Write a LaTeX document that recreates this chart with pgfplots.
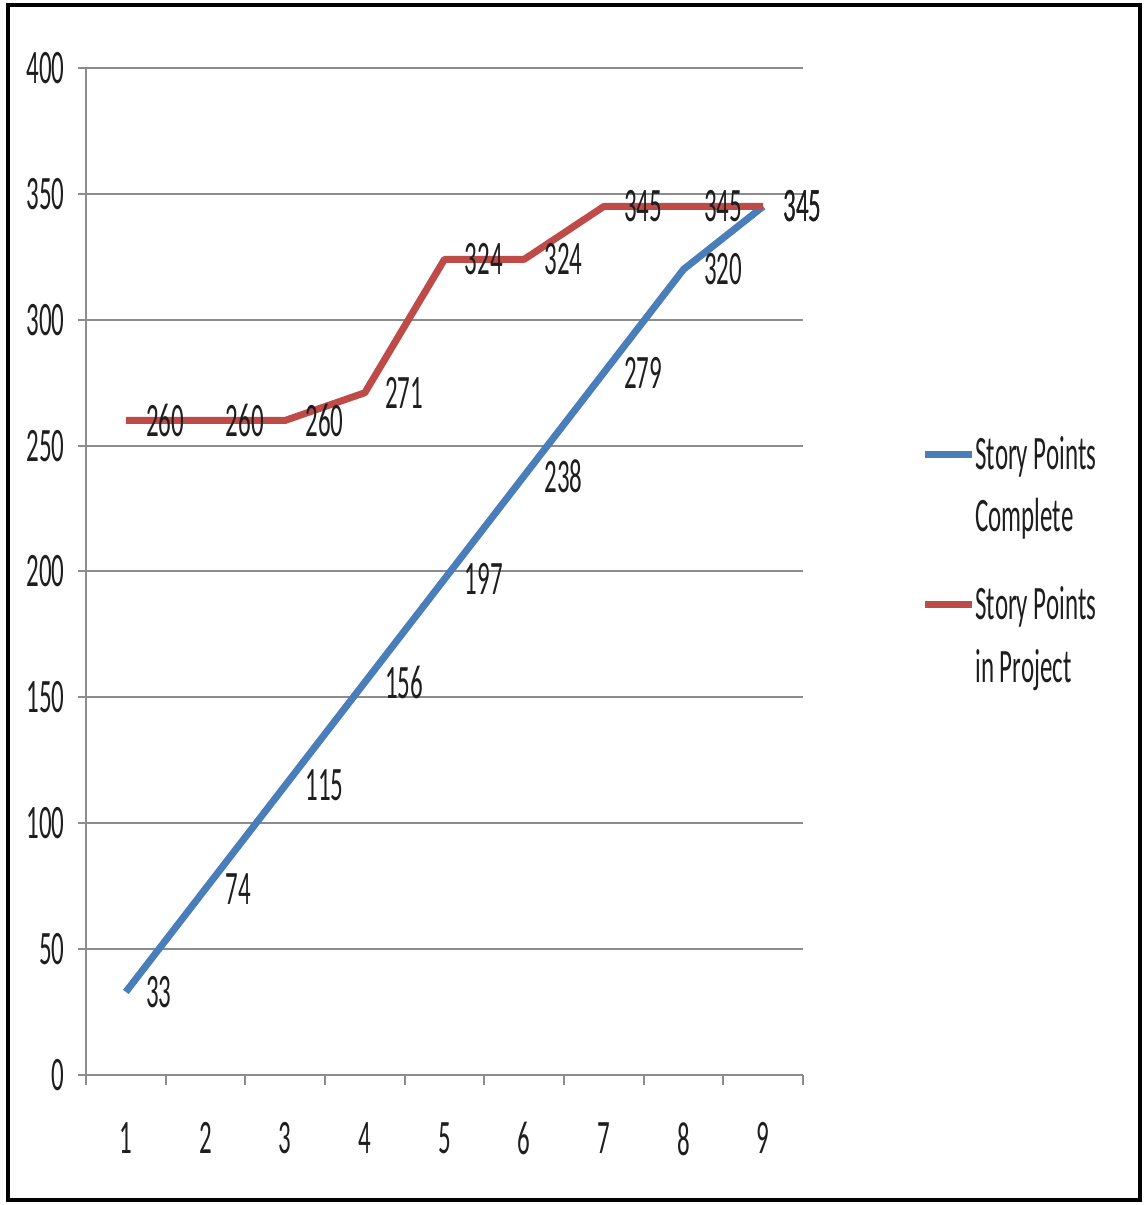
\documentclass[border=0pt]{standalone}
\usepackage{fontspec}
\setmainfont{Carlito}[FakeStretch=0.52]
\usepackage{pgfplots}
\pgfplotsset{compat=1.18}
\definecolor{sblue}{RGB}{74,126,187}
\definecolor{sred}{RGB}{190,75,72}
\definecolor{gridgray}{RGB}{140,140,140}
\definecolor{txt}{RGB}{30,30,30}
\begin{document}
\fontsize{24}{29}\selectfont
\begin{tikzpicture}
\useasboundingbox (-43pt,-65pt) rectangle (529pt,537.5pt);
\draw[line width=2pt] (-39pt,-62.5pt) rectangle (527pt,535pt);
\begin{axis}[
  at={(0pt,0pt)}, anchor=south west,
  scale only axis, width=358.5pt, height=503.5pt,
  xmin=0.5, xmax=9.5, ymin=0, ymax=400,
  axis lines*=left,
  axis line style={gridgray, line width=1pt},
  xtick={1,...,9},
  minor xtick={0.5,1.5,...,9.5},
  major x tick style={draw=none},
  ytick={0,50,...,400},
  ymajorgrids,
  grid style={gridgray, line width=1pt},
  tick align=outside,
  major tick length=4pt, minor tick length=5pt,
  tick style={gridgray, line width=1pt},
  /pgf/number format/assume math mode=true,
  ticklabel style={font=\fontsize{24}{29}\selectfont, text=txt},
  xticklabel style={yshift=-11.5pt},
  yticklabel style={xshift=1.5pt},
  clip=false,
  nodes near coords={\pgfmathprintnumber[assume math mode=true]{\pgfplotspointmeta}},
  every node near coord/.append style={anchor=west, xshift=0.5pt, text=txt, font=\fontsize{24}{29}\selectfont},
]
\addplot[sblue, line width=3.5pt, line join=round] coordinates {
  (1,33) (2,74) (3,115) (4,156) (5,197) (6,238) (7,279) (8,320) (9,345)};
\addplot[sred, line width=3.5pt, line join=round] coordinates {
  (1,260) (2,260) (3,260) (4,271) (5,324) (6,324) (7,345) (8,345) (9,345)};
\end{axis}
\draw[sblue, line width=3.5pt] (419.5pt,310pt) -- (443pt,310pt);
\draw[sred, line width=3.5pt] (419.5pt,235pt) -- (443pt,235pt);
\node[anchor=base west, inner sep=0pt, text=txt] at (444.5pt,302.5pt) {Story Points};
\node[anchor=base west, inner sep=0pt, text=txt] at (444.5pt,271.5pt) {Complete};
\node[anchor=base west, inner sep=0pt, text=txt] at (444.5pt,227.5pt) {Story Points};
\node[anchor=base west, inner sep=0pt, text=txt] at (444.5pt,196pt) {in Project};
\end{tikzpicture}
\end{document}
